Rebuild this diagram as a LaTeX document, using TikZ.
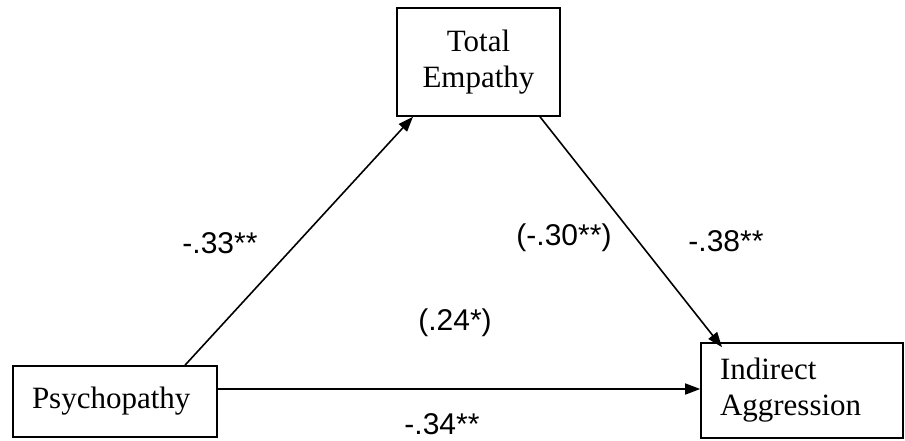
\documentclass[tikz,border=0pt]{standalone}
\usepackage{fontspec}
\setmainfont{Liberation Serif}
\newfontfamily\labelfont{Liberation Sans}
\usetikzlibrary{arrows.meta}

\begin{document}
\begin{tikzpicture}[
    x=1pt, y=-1pt,
    every node/.style={font=\fontsize{31}{36}\selectfont},
    block/.style={draw, line width=1.6pt, rectangle, inner ysep=0pt},
    coef/.style={font=\labelfont\fontsize{30}{34}\selectfont, inner sep=0pt},
    arrow/.style={-{Triangle[length=15pt,width=11pt]}, line width=1.6pt}
]
\useasboundingbox (0,0) rectangle (905,441);

\node[block, align=center, minimum width=163pt, minimum height=108pt] (empathy) at (478.5,62) {Total\\Empathy};
\node[block, align=left, text width=166pt, inner xsep=19pt, minimum height=71pt] (psycho) at (115,401.5) {Psychopathy};
\node[block, align=left, text width=164pt, inner xsep=19pt, minimum height=95pt] (aggr) at (802,390.5) {Indirect\\Aggression};

\draw[arrow] ([xshift=70pt]psycho.north) -- ([xshift=-65.5pt]empathy.south);
\draw[arrow] ([xshift=61.5pt]empathy.south) -- ([xshift=-80pt,yshift=-5pt]aggr.north);
\draw[arrow] ([yshift=12.5pt]psycho.east) -- ([yshift=12.5pt]psycho.east -| aggr.west);

\node[coef] (a) at (220,243) {-.33**};
\node[coef] (b) at (564,238) {(-.30**)};
\node[coef] (bb) at (726,241) {-.38**};
\node[coef] (c) at (455,323) {(.24*)};
\node[coef] (cc) at (442,424) {-.34**};
\end{tikzpicture}
\end{document}
